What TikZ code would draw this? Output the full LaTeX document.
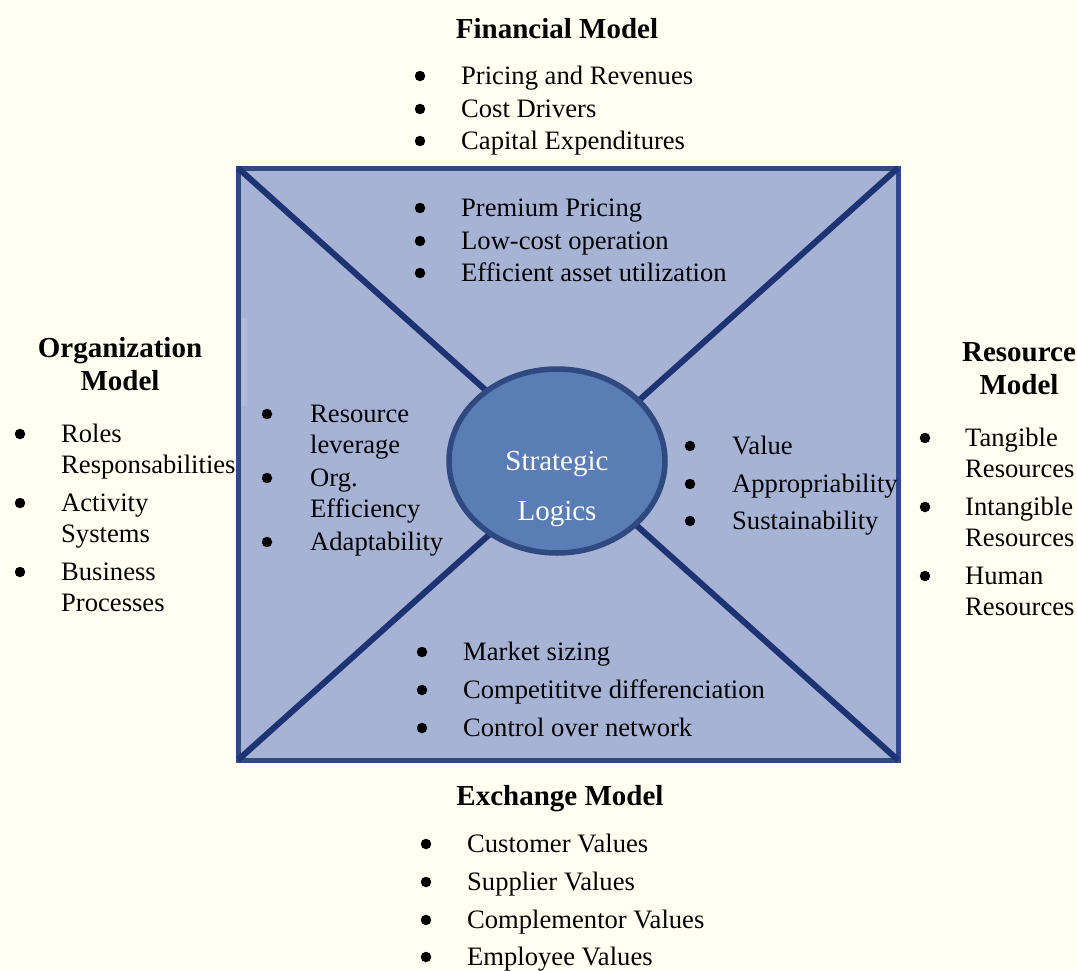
\documentclass[tikz,border=0pt]{standalone}
\usepackage{fontspec}
\setmainfont{Liberation Serif}
\usetikzlibrary{shapes.geometric}
\definecolor{bg}{HTML}{FFFFF2}
\definecolor{sqfill}{HTML}{A6B3D5}
\definecolor{sqborder}{HTML}{30497F}
\definecolor{diag}{HTML}{1E3373}
\definecolor{circfill}{HTML}{5B7DB5}
\definecolor{circborder}{HTML}{2F4A80}
\begin{document}
\begin{tikzpicture}[x=1pt,y=-1pt,
  txt/.style={font=\fontsize{26.6}{31}\selectfont, anchor=base west, inner sep=0pt},
  head/.style={font=\fontsize{29}{33}\selectfont\bfseries, anchor=base, inner sep=0pt},
  bul/.style={circle, fill=black, minimum size=10.5pt, inner sep=0pt},
  ctext/.style={font=\fontsize{29}{33}\selectfont, text=white, anchor=base, inner sep=0pt}]
\fill[bg] (0,0) rectangle (1077,970);
\useasboundingbox (0,0) rectangle (1077,970);
% square
\coordinate (tl) at (238,168);
\coordinate (tr) at (898,168);
\coordinate (br) at (898,760);
\coordinate (bl) at (238,760);
\filldraw[fill=sqfill, draw=sqborder, line width=5pt] (tl) -- (tr) -- (br) -- (bl) -- cycle;
\fill[white, opacity=0.12] (241,318) rectangle (247,406);
\draw[diag, line width=6pt] (tl) -- (br);
\draw[diag, line width=6pt] (tr) -- (bl);
% circle
\node[ellipse, minimum width=216pt, minimum height=184pt, fill=circfill, draw=circborder, line width=5.5pt] (sl) at (557,461) {};
\node[ctext] (sl1) at (557,470) {Strategic};
\node[ctext] (sl2) at (557,520) {Logics};
% headings
\node[head] (fm) at (557,38) {Financial Model};
\node[head] (em) at (560,805) {Exchange Model};
\node[head] (om1) at (120,357) {Organization};
\node[head] (om2) at (120,390) {Model};
\node[head] (rm1) at (1019,361) {Resource};
\node[head] (rm2) at (1019,394) {Model};
% financial outer
\foreach \y/\t [count=\i] in {76/Pricing and Revenues,109/Cost Drivers,141/Capital Expenditures}{
  \node[bul] (fb\i) at (420,\y) {};
  \node[txt] (ft\i) at (461,\y+8) {\t};
}
% financial inner
\foreach \y/\t [count=\i] in {208/Premium Pricing,241/Low-cost operation,273/Efficient asset utilization}{
  \node[bul] (fib\i) at (420,\y) {};
  \node[txt] (fit\i) at (461,\y+8) {\t};
}
% organization inner
\node[bul] (oib1) at (267,414) {};
\node[txt] (oit1a) at (310,422) {Resource};
\node[txt] (oit1b) at (310,453) {leverage};
\node[bul] (oib2) at (267,478) {};
\node[txt] (oit2a) at (310,486) {Org.};
\node[txt] (oit2b) at (310,517) {Efficiency};
\node[bul] (oib3) at (267,542) {};
\node[txt] (oit3) at (310,550) {Adaptability};
% resource inner
\foreach \y/\t [count=\i] in {446/Value,484/Appropriability,521/Sustainability}{
  \node[bul] (rib\i) at (690,\y) {};
  \node[txt] (rit\i) at (732,\y+8) {\t};
}
% exchange inner
\foreach \y/\t [count=\i] in {652/Market sizing,690/Competititve differenciation,728/Control over network}{
  \node[bul] (eib\i) at (422,\y) {};
  \node[txt] (eit\i) at (463,\y+8) {\t};
}
% exchange outer
\foreach \y/\t [count=\i] in {844/Customer Values,882/Supplier Values,920/Complementor Values,957/Employee Values}{
  \node[bul] (eb\i) at (426,\y) {};
  \node[txt] (et\i) at (467,\y+8) {\t};
}
% organization outer
\node[bul] (ob1) at (20,434) {};
\node[txt] (ot1a) at (61,442) {Roles};
\node[txt] (ot1b) at (61,473) {Responsabilities};
\node[bul] (ob2) at (20,503) {};
\node[txt] (ot2a) at (61,511) {Activity};
\node[txt] (ot2b) at (61,542) {Systems};
\node[bul] (ob3) at (20,572) {};
\node[txt] (ot3a) at (61,580) {Business};
\node[txt] (ot3b) at (61,611) {Processes};
% resource outer
\node[bul] (rb1) at (925,438) {};
\node[txt] (rt1a) at (965,446) {Tangible};
\node[txt] (rt1b) at (965,477) {Resources};
\node[bul] (rb2) at (925,507) {};
\node[txt] (rt2a) at (965,515) {Intangible};
\node[txt] (rt2b) at (965,546) {Resources};
\node[bul] (rb3) at (925,576) {};
\node[txt] (rt3a) at (965,584) {Human};
\node[txt] (rt3b) at (965,615) {Resources};
\end{tikzpicture}
\end{document}
